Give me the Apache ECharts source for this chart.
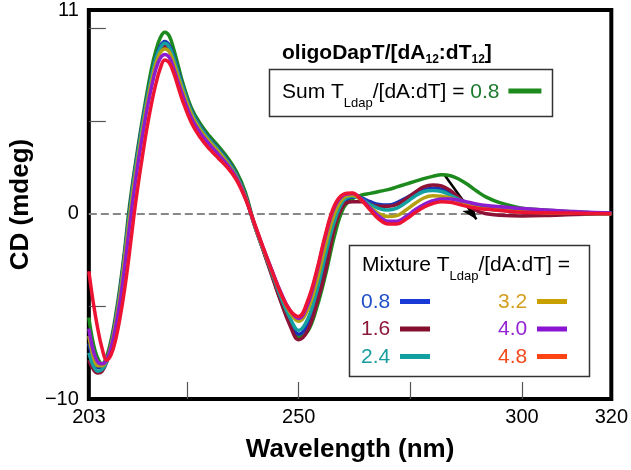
<!DOCTYPE html>
<html><head><meta charset="utf-8">
<script src="https://cdn.jsdelivr.net/npm/echarts@6/dist/echarts.min.js"></script>
<style>html,body{margin:0;padding:0;background:#fff}#c{width:631px;height:470px}</style>
</head><body><div id="c"></div>
<script>
// ---- data ----
const wavelength = [203,204,205,206,207,208,209,210,211,212,213,214,215,216,217,218,219,220,221,222,223,224,
  226,228,230,232,234,236,238,240,242,244,246,248,250,252,254,256,258,260,262,264,266,268,270,272,274,276,278,280,282,284,286,288,290,292,
  295,300,305,310,315,320];
const sum08 = [-5.6,-7.0,-7.8,-8.1,-7.7,-6.8,-5.5,-3.9,-2.0,0.2,2.0,3.6,5.1,6.5,7.8,8.8,9.5,9.8,9.6,8.9,8.0,7.1,
  5.7,4.85,4.2,3.65,3.05,2.3,1.2,-0.5,-1.9,-3.3,-4.7,-5.9,-6.65,-6.35,-5.1,-3.3,-1.2,0.3,0.8,1.0,1.1,1.2,1.3,1.45,1.6,1.75,1.9,2.02,2.1,2.05,1.85,1.55,1.2,0.9,
  0.6,0.3,0.2,0.12,0.07,0.03];
const mix08 = [-7.0,-7.9,-8.3,-8.3,-7.9,-7.0,-5.7,-4.1,-2.2,-0.1,1.8,3.4,4.9,6.2,7.4,8.4,9.05,9.3,9.1,8.5,7.7,6.9,
  5.55,4.7,4.05,3.5,2.9,2.15,1.05,-0.55,-1.9,-3.25,-4.6,-5.8,-6.5,-6.0,-4.5,-2.5,-0.6,0.55,0.9,0.85,0.65,0.5,0.47,0.6,0.85,1.1,1.28,1.38,1.33,1.15,0.8,0.55,0.4,0.3,
  0.22,0.15,0.1,0.06,0.03,0.01];
const mix16 = [-7.9,-8.4,-8.6,-8.5,-8.0,-7.1,-5.8,-4.2,-2.3,-0.2,1.7,3.3,4.8,6.1,7.3,8.2,8.8,9.05,8.9,8.3,7.55,6.8,
  5.5,4.65,4.0,3.45,2.85,2.1,1.0,-0.55,-1.95,-3.35,-4.75,-6.0,-6.8,-6.3,-4.9,-3.1,-0.8,0.45,0.65,0.65,0.5,0.4,0.4,0.5,0.8,1.15,1.45,1.55,1.5,1.25,0.85,0.45,0.15,0.0,
  -0.08,-0.12,-0.1,-0.05,-0.02,0.0];
const mix24 = [-7.5,-8.2,-8.5,-8.4,-8.0,-7.1,-5.8,-4.2,-2.3,-0.2,1.7,3.3,4.8,6.15,7.35,8.35,8.95,9.2,9.0,8.4,7.6,6.85,
  5.5,4.65,4.0,3.45,2.85,2.1,1.0,-0.55,-1.9,-3.2,-4.5,-5.6,-6.3,-5.7,-4.2,-2.2,-0.4,0.7,0.95,0.8,0.5,0.28,0.2,0.3,0.6,0.95,1.2,1.26,1.2,1.0,0.75,0.5,0.35,0.27,
  0.2,0.12,0.08,0.05,0.02,0.0];
const mix32 = [-6.6,-7.7,-8.2,-8.2,-7.9,-7.1,-5.9,-4.4,-2.5,-0.5,1.4,3.0,4.5,5.9,7.1,8.1,8.7,8.9,8.75,8.15,7.4,6.65,
  5.35,4.5,3.9,3.35,2.75,2.0,0.95,-0.55,-1.85,-3.1,-4.3,-5.3,-5.8,-5.2,-3.7,-1.7,0.0,0.85,1.0,0.75,0.35,0.0,-0.15,-0.1,0.2,0.55,0.85,0.97,0.95,0.85,0.65,0.45,0.33,0.26,
  0.2,0.1,0.06,0.04,0.02,0.0];
const mix40 = [-6.2,-7.4,-8.0,-8.1,-7.9,-7.2,-6.1,-4.7,-2.9,-0.9,1.0,2.7,4.2,5.6,6.8,7.8,8.4,8.6,8.45,7.85,7.1,6.4,
  5.15,4.35,3.75,3.2,2.65,1.95,0.9,-0.5,-1.8,-3.05,-4.25,-5.2,-5.65,-4.9,-3.2,-1.2,0.35,1.0,1.1,0.8,0.3,-0.15,-0.4,-0.4,-0.15,0.2,0.5,0.7,0.8,0.8,0.72,0.62,0.52,0.45,
  0.38,0.28,0.2,0.14,0.08,0.04];
const mix48 = [-3.1,-4.8,-6.2,-7.3,-7.9,-7.6,-6.8,-5.6,-4.1,-2.3,-0.3,1.5,3.1,4.6,5.9,7.0,7.85,8.3,8.15,7.6,6.85,6.1,
  4.9,4.1,3.5,3.0,2.5,1.85,0.85,-0.45,-1.8,-3.1,-4.3,-5.2,-5.55,-4.7,-3.1,-1.1,0.45,1.05,1.12,0.75,0.2,-0.3,-0.55,-0.55,-0.3,0.05,0.35,0.55,0.65,0.62,0.5,0.38,0.3,0.24,
  0.18,0.08,0.05,0.04,0.02,0.0];
const xTickLabels = [203, 250, 300, 320];
const xTicks = [225, 250, 275, 300];
const yTickLabels = [-10, 0, 11];
const yTicks = [-5, 5, 10];
const arrowStart = [282.5, 2.15];
const arrowEnd = [289.8, -0.3];
const mixtureLabels = ['0.8', '1.6', '2.4', '3.2', '4.0', '4.8'];
const sumLabel = '0.8';

// ---- styling ----
const FF = '"Liberation Sans", Arial, Helvetica, sans-serif';
const C = {
  sum: '#1c8a1c', sumText: '#1e7a30',
  c08: '#1a32b8', c16: '#8c1236', c24: '#14a0a0', c32: '#b4a010', c40: '#8c1ecf', c48: '#ec1432'
};
const legendColors = [
  {text:'#2050c8', line:'#1a3ad8'}, {text:'#8c1a3c', line:'#85102e'}, {text:'#1a9c9c', line:'#10a0a0'},
  {text:'#d49e1e', line:'#caa000'}, {text:'#9424d2', line:'#8a14d2'}, {text:'#f24a1c', line:'#ff4414'}
];

const pairs = v => wavelength.map((w, i) => [w, v[i]]);
function curve(name, vals, color) {
  return {name, type:'line', data: pairs(vals), smooth: 0.4, showSymbol:false, symbol:'none', z:3,
    lineStyle:{color, width:3.5}, itemStyle:{color}, animation:false};
}

// text measurement for annotation layout
const mctx = document.createElement('canvas').getContext('2d');
function tw(t, font){ mctx.font = font; return mctx.measureText(t).width; }
function textRun(x, base, parts) {
  const els = []; let cx = x;
  for (const p of parts) {
    const size = p.s || 21; const font = (p.b ? 'bold ' : '') + size + 'px ' + FF;
    const yb = base + (p.dy || 0);
    els.push({type:'text', x: cx, y: yb - 0.3465 * size, z: 10,
      style:{text: p.t, font, fill: p.c || '#000', align:'left', verticalAlign:'middle', textAlign:'left', textVerticalAlign:'middle'}});
    cx += tw(p.t, font);
  }
  return {els, end: cx};
}

const graphics = [];
// title
graphics.push(...textRun(282, 60, [
  {t:'oligoDapT/[dA', b:true}, {t:'12', b:true, s:12, dy:4}, {t:':dT', b:true}, {t:'12', b:true, s:12, dy:4}, {t:']', b:true}
]).els);
// sum box
graphics.push({type:'rect', z:10, shape:{x:269.5, y:69.5, width:283, height:47}, style:{fill:'#fff', stroke:'#333', lineWidth:1.5}});
const sr = textRun(282, 99, [
  {t:'Sum T'}, {t:'Ldap', s:13, dy:9}, {t:'/[dA:dT] = '}, {t:sumLabel, c:C.sumText}
]);
graphics.push(...sr.els);
graphics.push({type:'line', z:10, shape:{x1:sr.end + 9, y1:91, x2:sr.end + 42, y2:91}, style:{stroke:C.sum, lineWidth:5}});
// mixture box
graphics.push({type:'rect', z:10, shape:{x:349.5, y:245.5, width:240, height:131}, style:{fill:'#fff', stroke:'#333', lineWidth:1.5}});
graphics.push(...textRun(362, 272, [
  {t:'Mixture T'}, {t:'Ldap', s:13, dy:9}, {t:'/[dA:dT] ='}
]).els);
const rowBase = [309, 336.5, 364];
mixtureLabels.forEach((lab, i) => {
  const col = Math.floor(i / 3), row = i % 3;
  const x0 = col === 0 ? 361 : 498;
  graphics.push(...textRun(x0, rowBase[row], [{t:lab, c:legendColors[i].text}]).els);
  const ly = rowBase[row] - 7.5;
  graphics.push({type:'line', z:10, shape:{x1:x0 + 39, y1:ly, x2:x0 + 69, y2:ly}, style:{stroke:legendColors[i].line, lineWidth:5}});
});

const option = {
  animation:false,
  backgroundColor:'#fff',
  grid:{left:83, right:18.5, top:10, bottom:71, show:true, borderColor:'#000', borderWidth:4, backgroundColor:'transparent'},
  xAxis:{type:'value', min:203, max:320,
    axisLine:{show:false, onZero:false},
    axisTick:{show:true, inside:true, length:17, customValues:xTicks, lineStyle:{color:'#555', width:1.2}},
    axisLabel:{customValues:xTickLabels, fontSize:20, color:'#000', fontFamily:FF, margin:8},
    splitLine:{show:false},
    name:'Wavelength (nm)', nameLocation:'middle', nameGap:38,
    nameTextStyle:{fontSize:26, fontWeight:'bold', color:'#000', fontFamily:FF}},
  yAxis:{type:'value', min:-10, max:11,
    axisLine:{show:false, onZero:false},
    axisTick:{show:true, inside:true, length:17, customValues:yTicks, lineStyle:{color:'#555', width:1.2}},
    axisLabel:{customValues:yTickLabels, fontSize:20, color:'#000', fontFamily:FF, margin:10,
      formatter: v => v < 0 ? '\u2212' + Math.abs(v) : String(v)},
    splitLine:{show:false},
    name:'CD (mdeg)', nameLocation:'middle', nameGap:42,
    nameTextStyle:{fontSize:26, fontWeight:'bold', color:'#000', fontFamily:FF}},
  series:[
    {type:'line', data:[], z:1, silent:true,
      markLine:{silent:true, z:1, animation:false, symbol:'none', label:{show:false},
        data:[
          {yAxis:0, lineStyle:{color:'#888', type:[8,4], width:2}},
          [{coord:arrowStart, symbol:'none'}, {coord:arrowEnd, symbol:'arrow', symbolSize:[10,15], lineStyle:{color:'#000', width:2.5, type:'solid'}}]
        ],
        lineStyle:{color:'#000', width:2.5, type:'solid'}}},
    curve('Sum 0.8', sum08, C.sum),
    curve('Mixture 0.8', mix08, C.c08),
    curve('Mixture 1.6', mix16, C.c16),
    curve('Mixture 2.4', mix24, C.c24),
    curve('Mixture 3.2', mix32, C.c32),
    curve('Mixture 4.0', mix40, C.c40),
    curve('Mixture 4.8', mix48, C.c48)
  ],
  graphic: graphics
};
const chart = echarts.init(document.getElementById('c'), null, {renderer:'canvas'});
chart.setOption(option);
</script></body></html>
